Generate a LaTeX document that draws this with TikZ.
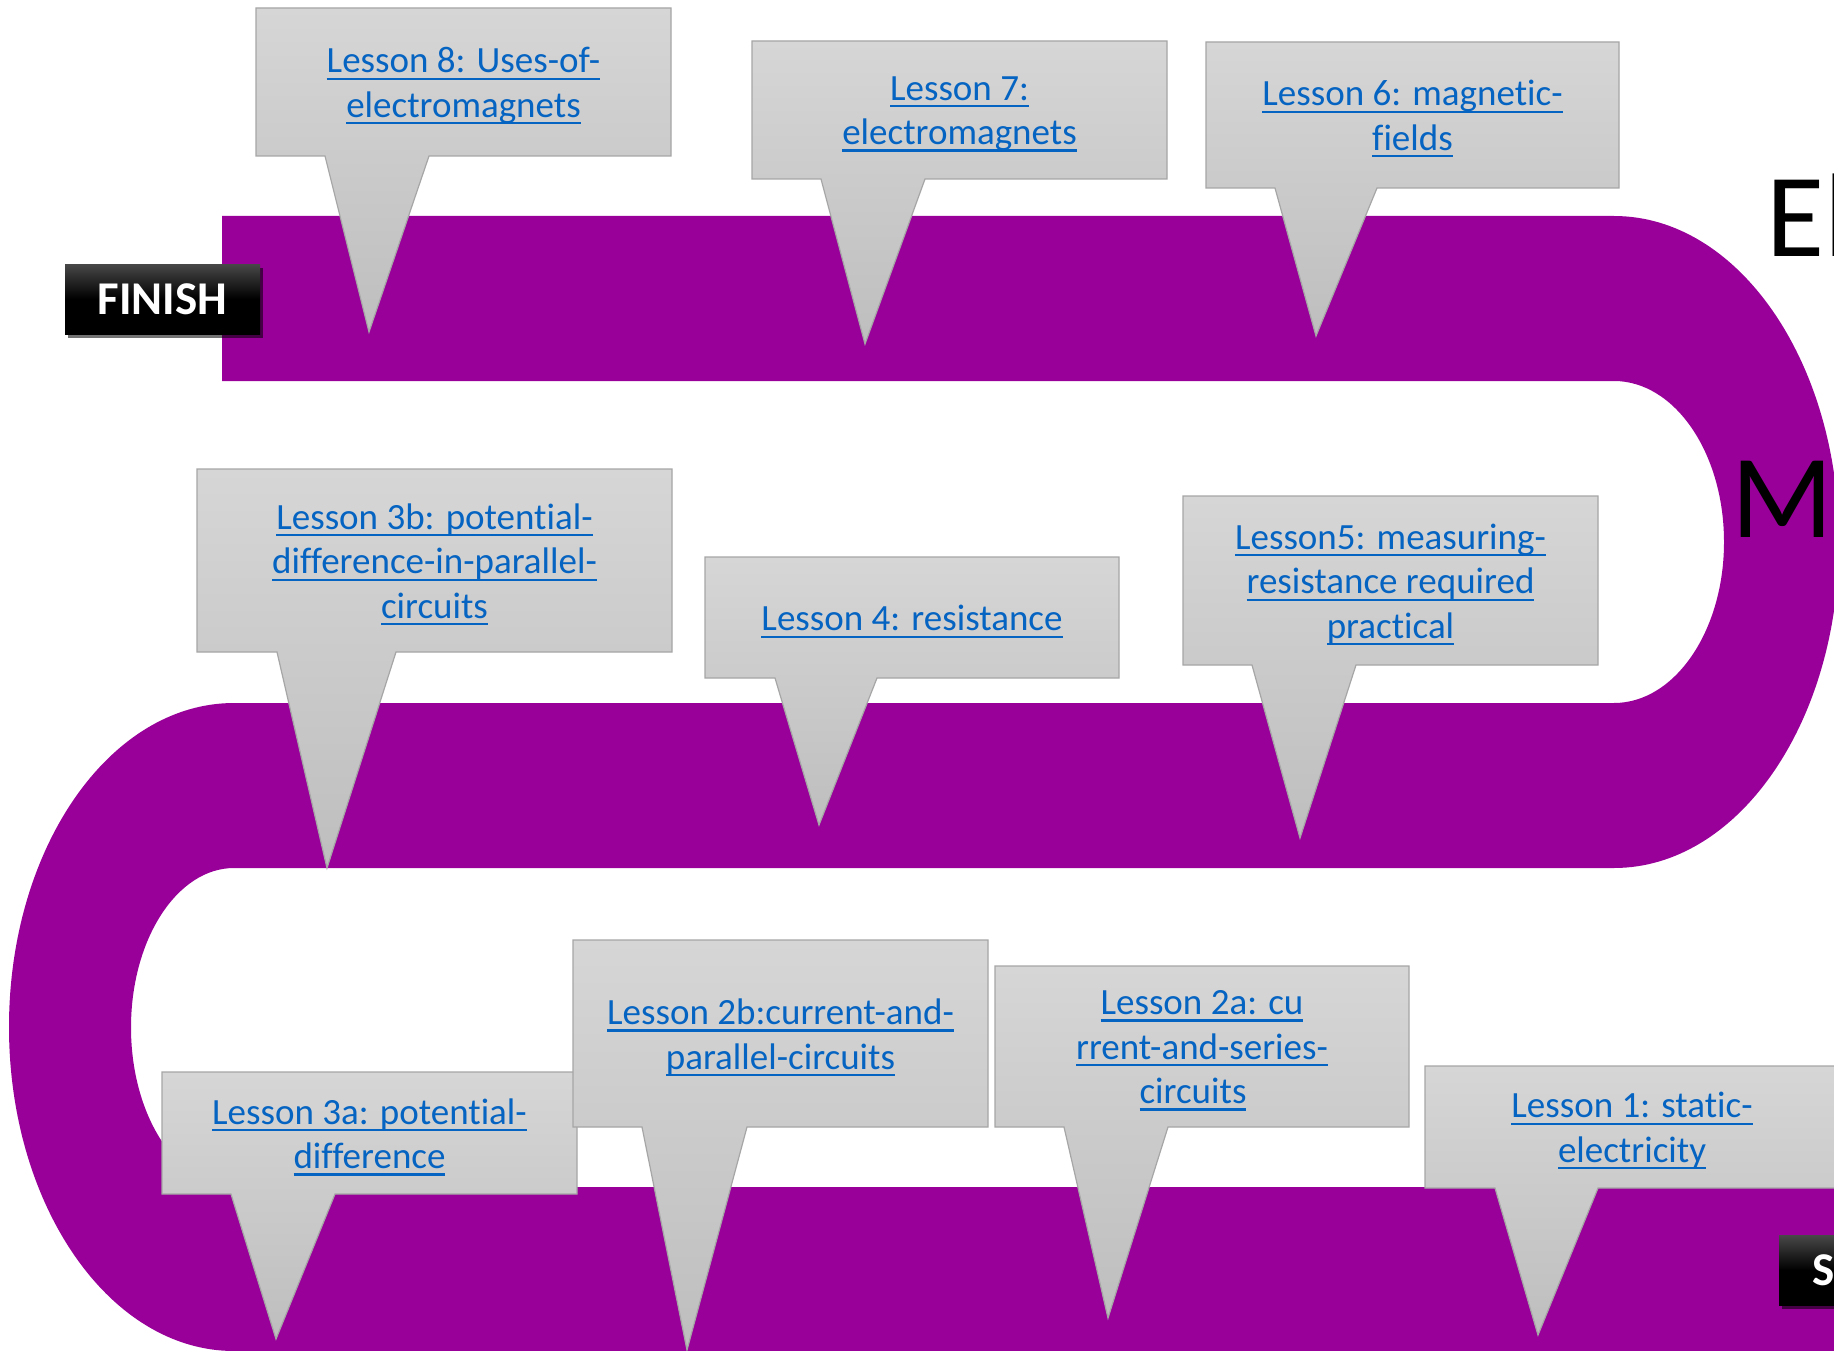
\documentclass[tikz,border=0pt]{standalone}
\usepackage{fontspec}
\setmainfont[Ligatures=NoCommon]{Carlito}
\usetikzlibrary{shadows}
\definecolor{trackpurple}{HTML}{990099}
\definecolor{linkblue}{HTML}{0563C1}
\definecolor{boxtop}{HTML}{D6D6D6}
\definecolor{boxbot}{HTML}{BEBEBE}
\definecolor{boxline}{HTML}{A6A6A6}
\definecolor{flagtop}{HTML}{484848}
\newcommand\lk[1]{\setbox0=\hbox{#1}\rlap{\rule[-7pt]{\wd0}{2.2pt}}\box0}
\newcommand\bubble[8]{\path[lessonbox] (#1,#2) -- (#3,#2) -- (#3,#4) -- (#6,#4) -- (#7,#8) -- (#5,#4) -- (#1,#4) -- cycle;}
\tikzset{
  lessonbox/.style={draw=boxline, line width=1.2pt, top color=boxtop, bottom color=boxbot, line join=miter},
  lessontext/.style={text=linkblue, align=center, inner sep=0pt, yshift=-4pt, font=\fontsize{37}{44.5}\selectfont},
  flagbox/.style={top color=flagtop, bottom color=black, middle color=black, text=white,
    drop shadow={shadow xshift=3pt, shadow yshift=-4pt, opacity=0.55, fill=black},
    font=\bfseries\fontsize{47}{56}\selectfont, inner sep=0pt, minimum height=70pt},
  titletext/.style={anchor=base west, inner sep=0pt, text=black, font=\fontsize{119}{130}\selectfont}
}
\begin{document}
\begin{tikzpicture}[x=1pt,y=-1pt]
\useasboundingbox (0,0) rectangle (1834,1351);
\clip (0,0) rectangle (1834,1351);
\fill[white] (0,0) rectangle (1834,1351);
% purple track
\fill[trackpurple] (222,216) -- (1614,216)
  arc[start angle=-90, end angle=90, x radius=225, y radius=326]
  -- (234,868)
  arc[start angle=-90, end angle=-270, x radius=103, y radius=159.5]
  -- (1850,1187) -- (1850,1351) -- (234,1351)
  arc[start angle=90, end angle=270, x radius=225, y radius=324]
  -- (1614,703)
  arc[start angle=90, end angle=-90, x radius=110, y radius=161]
  -- (222,381) -- cycle;
% callouts
\bubble{256}{8}{671}{156}{325}{429}{369}{332}
\node[lessontext] (t8) at (463.5,82) {\lk{Lesson 8: Uses-of-}\\\lk{electromagnets}};
\bubble{752}{41}{1167}{179}{821}{925}{865}{344}
\node[lessontext] (t7) at (959.5,110) {\lk{Lesson 7:}\\\lk{electromagnets}};
\bubble{1206}{42}{1619}{188}{1275}{1377}{1316}{336}
\node[lessontext] (t6) at (1412.5,115) {\lk{Lesson 6: magnetic-}\\\lk{fields}};
\bubble{197}{469}{672}{652}{277}{396}{327}{868}
\node[lessontext] (t3b) at (434.5,560.5) {\lk{Lesson 3b: potential-}\\\lk{difference-in-parallel-}\\\lk{circuits}};
\bubble{705}{557}{1119}{678}{775}{877}{819}{825}
\node[lessontext] (t4) at (912,617.5) {\lk{Lesson 4: resistance}};
\bubble{1183}{496}{1598}{665}{1252}{1356}{1300}{838}
\node[lessontext] (t5) at (1390.5,580.5) {\lk{Lesson5: measuring-}\\\lk{resistance required}\\\lk{practical}};
\bubble{162}{1072}{577}{1194}{231}{335}{276}{1339}
\node[lessontext] (t3a) at (369.5,1133) {\lk{Lesson 3a: potential-}\\\lk{difference}};
\bubble{573}{940}{988}{1127}{642}{747}{687}{1350}
\node[lessontext] (t2b) at (780.5,1033.5) {\lk{Lesson 2b:current-and-}\\\lk{parallel-circuits}};
\bubble{995}{966}{1409}{1127}{1064}{1168}{1108}{1318}
\node[lessontext] (t2a) at (1202,1046.5) {\lk{Lesson 2a: cu}\\\lk{rrent-and-series-}\\\lk{circuits}\hspace*{18pt}};
\bubble{1425}{1066}{1839}{1188}{1495}{1598}{1538}{1335}
\node[lessontext] (t1) at (1632,1127) {\lk{Lesson 1: static-}\\\lk{electricity}};
% finish / start flags
\node[flagbox, minimum width=195pt] (finish) at (162.5,299) {FINISH};
\node[flagbox, anchor=north west, text width=120pt, align=left, inner xsep=33pt] (start) at (1779,1235) {S};
% title letters
\node[titletext] (title1) at (1766,257) {El};
\node[titletext] (title2) at (1731,537) {M};
\end{tikzpicture}
\end{document}
